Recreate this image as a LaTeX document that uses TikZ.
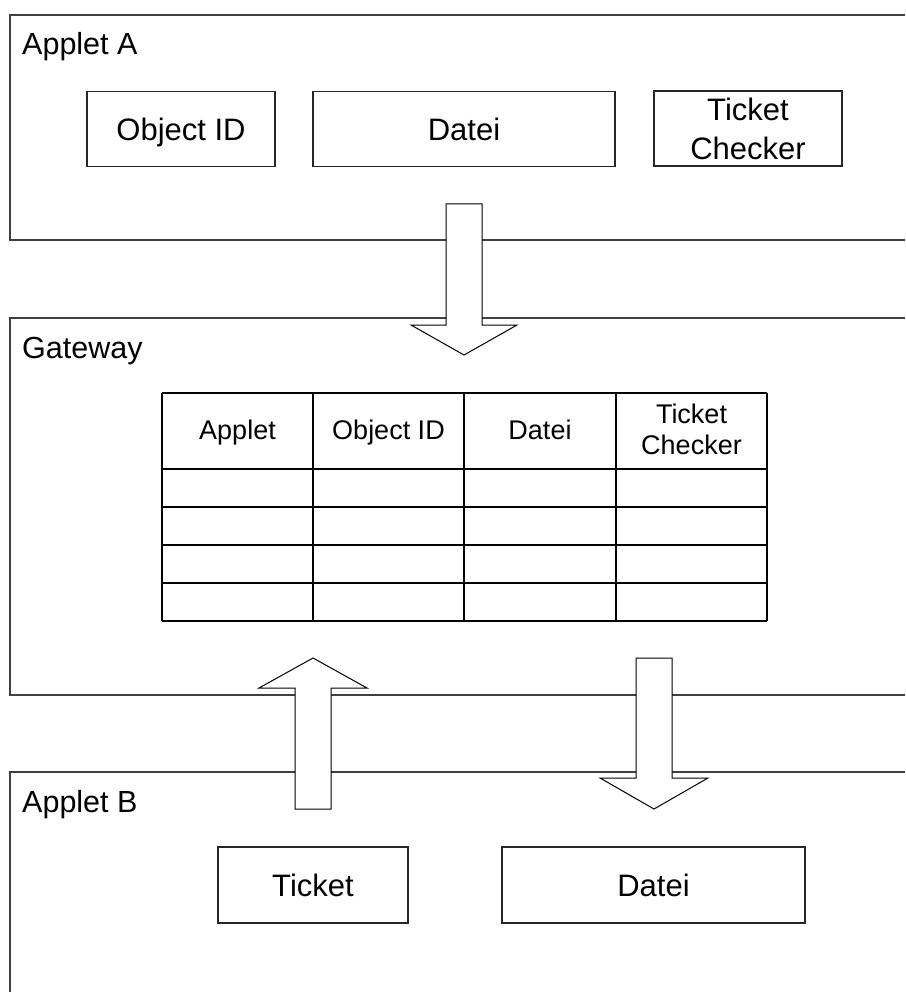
\documentclass[tikz,border=0pt]{standalone}
\usepackage{fontspec}
\setmainfont{Liberation Sans}
\begin{document}
\begin{tikzpicture}[x=1pt,y=-1pt,
  container/.style={draw=black!75, line width=1.4pt},
  box/.style={draw=black!85, line width=1.1pt, inner sep=0pt, align=center, font=\fontsize{31}{39}\selectfont, text height=22.2pt, text depth=0pt},
  twoline/.style={text height=61.2pt},
  lbl/.style={anchor=base west, inner sep=0pt, font=\fontsize{30.5}{36}\selectfont},
  hdr/.style={inner sep=0pt, align=center, font=\fontsize{27}{31}\selectfont, text height=19.3pt, text depth=0pt},
  hdrtwo/.style={text height=50.3pt},
  tabthin/.style={draw=black, line width=1.3pt},
  tabthick/.style={draw=black, line width=2pt},
  blockarrow/.style={draw=black, fill=white, line width=1pt, line join=miter}]
\useasboundingbox (0,0) rectangle (905,992);
% containers
\draw[container] (905,15) -- (10,15) -- (10,240) -- (905,240);
\draw[container] (905,318) -- (10,318) -- (10,695) -- (905,695);
\draw[container] (905,772) -- (10,772) -- (10,992);
\node[lbl] (la) at (22,55) {Applet A};
\node[lbl] (lg) at (22,358) {Gateway};
\node[lbl] (lb) at (22,812) {Applet B};
% Applet A boxes
\node[box, minimum width=188pt, minimum height=75pt] (aobj) at (181,129) {Object ID};
\node[box, minimum width=302pt, minimum height=75pt] (adat) at (464,129) {Datei};
\node[box, twoline, minimum width=188pt, minimum height=75pt] (atck) at (748,128.5) {Ticket\\Checker};
% Applet B boxes
\node[box, minimum width=190pt, minimum height=76pt] (btck) at (313,885) {Ticket};
\node[box, minimum width=303pt, minimum height=76pt] (bdat) at (653.5,885) {Datei};
% table
\draw[tabthin] (162,393) -- (767,393);
\foreach \y in {469,507,545,583,621} \draw[tabthick] (162,\y) -- (767,\y);
\foreach \x in {162,313,464,616,767} \draw[tabthick] (\x,393) -- (\x,621);
\node[hdr] (h1) at (237.5,430) {Applet};
\node[hdr] (h2) at (388.5,430) {Object ID};
\node[hdr] (h3) at (540,430) {Datei};
\node[hdr, hdrtwo] (h4) at (691.5,429) {Ticket\\Checker};
% block arrows
\draw[blockarrow] (446,204) -- (482,204) -- (482,325) -- (517,325) -- (464,355) -- (411,325) -- (446,325) -- cycle;
\draw[blockarrow] (295,809) -- (331,809) -- (331,688) -- (367,688) -- (313,658) -- (259,688) -- (295,688) -- cycle;
\draw[blockarrow] (636,658) -- (672,658) -- (672,778) -- (708,778) -- (654,809) -- (600,778) -- (636,778) -- cycle;
\end{tikzpicture}
\end{document}
